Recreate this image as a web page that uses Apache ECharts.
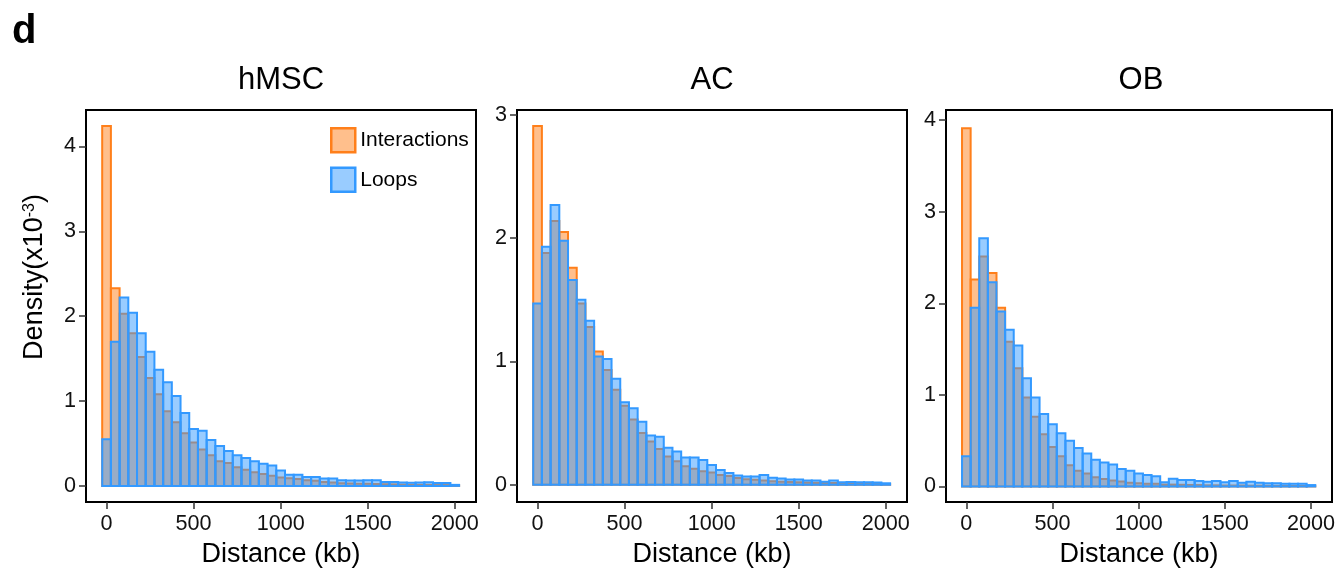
<!DOCTYPE html>
<html><head><meta charset="utf-8">
<script src="https://cdn.jsdelivr.net/npm/echarts@6/dist/echarts.min.js"></script>
<style>html,body{margin:0;padding:0;background:#fff}#c{width:1338px;height:573px}</style>
</head><body><div id="c"></div>
<script>
// ---- data (density x10^-3, bins of 50 kb, centers in kb) ----
const bins = [0,50,100,150,200,250,300,350,400,450,500,550,600,650,700,750,800,850,900,950,1000,
  1050,1100,1150,1200,1250,1300,1350,1400,1450,1500,1550,1600,1650,1700,1750,1800,1850,1900,1950,2000];
const panelNames = ['hMSC', 'AC', 'OB'];
const seriesNames = ['Interactions', 'Loops'];
const xTickValues = [0, 500, 1000, 1500, 2000];
const yTickValuesHMSC = [0, 1, 2, 3, 4];
const yTickValuesAC = [0, 1, 2, 3];
const yTickValuesOB = [0, 1, 2, 3, 4];

const hmscInteractions = [4.24,2.33,2.03,1.80,1.52,1.27,1.08,0.88,0.75,0.62,0.51,0.43,0.36,0.29,0.27,0.22,0.19,0.16,0.14,0.12,
  0.10,0.09,0.08,0.065,0.06,0.047,0.04,0.03,0.028,0.025,0.025,0.022,0.02,0.018,0.015,0.013,0.012,0.012,0.01,0.01,0.005];
const hmscLoops = [0.55,1.70,2.22,2.04,1.80,1.58,1.37,1.22,1.06,0.86,0.67,0.65,0.54,0.47,0.41,0.36,0.33,0.29,0.26,0.24,
  0.18,0.13,0.13,0.106,0.106,0.086,0.086,0.067,0.063,0.063,0.067,0.067,0.047,0.047,0.04,0.037,0.04,0.043,0.035,0.035,0.012];

const acInteractions = [2.91,1.88,2.14,2.05,1.76,1.47,1.28,1.08,0.93,0.77,0.64,0.53,0.42,0.35,0.29,0.23,0.19,0.15,0.13,0.11,
  0.10,0.08,0.07,0.055,0.045,0.04,0.035,0.028,0.025,0.022,0.02,0.018,0.016,0.014,0.014,0.012,0.01,0.01,0.009,0.008,0.005];
const acLoops = [1.47,1.93,2.27,1.98,1.66,1.50,1.33,1.04,1.02,0.86,0.67,0.62,0.51,0.40,0.39,0.30,0.27,0.22,0.22,0.20,
  0.16,0.12,0.095,0.075,0.067,0.067,0.08,0.057,0.05,0.043,0.043,0.035,0.035,0.025,0.035,0.02,0.022,0.02,0.02,0.018,0.012];

const obInteractions = [3.91,2.26,2.51,2.33,1.95,1.58,1.29,0.97,0.76,0.57,0.43,0.33,0.23,0.17,0.14,0.10,0.08,0.065,0.055,0.04,
  0.036,0.03,0.028,0.02,0.02,0.018,0.016,0.015,0.012,0.012,0.01,0.01,0.01,0.008,0.008,0.007,0.006,0.005,0.005,0.005,0.003];
const obLoops = [0.33,1.95,2.71,2.23,1.91,1.71,1.54,1.18,0.97,0.79,0.68,0.58,0.50,0.42,0.36,0.29,0.26,0.24,0.19,0.17,
  0.14,0.125,0.11,0.045,0.085,0.07,0.07,0.06,0.05,0.06,0.045,0.06,0.04,0.05,0.04,0.035,0.035,0.03,0.03,0.03,0.015];

// ---- styling ----
const FONT = "'Liberation Sans', Arial, Helvetica, sans-serif";
const ORANGE = '#FF7F1A', ORANGE_FILL = 'rgba(255,127,26,0.5)';
const BLUE = '#3399FF', BLUE_FILL = 'rgba(51,153,255,0.5)';
const BIN_HALF = 25;

const panelData = [
  {inter: hmscInteractions, loops: hmscLoops, ymin: -0.19, ymax: 4.43, yticks: yTickValuesHMSC},
  {inter: acInteractions, loops: acLoops, ymin: -0.14, ymax: 3.04, yticks: yTickValuesAC},
  {inter: obInteractions, loops: obLoops, ymin: -0.17, ymax: 4.11, yticks: yTickValuesOB}
];
const gridLefts = [86, 517, 946];
const gridWidth = 390;

function makeRender(fill, stroke) {
  return function (params, api) {
    const x = api.value(0), y = api.value(1);
    const p0 = api.coord([x - BIN_HALF, y]);
    const p1 = api.coord([x + BIN_HALF, 0]);
    return {
      type: 'rect',
      shape: {x: p0[0], y: p0[1], width: p1[0] - p0[0], height: p1[1] - p0[1]},
      style: {fill: fill, stroke: stroke, lineWidth: 2}
    };
  };
}

const grids = [], xAxes = [], yAxes = [], series = [], titles = [];
panelData.forEach((p, i) => {
  grids.push({left: gridLefts[i], top: 110, width: gridWidth, height: 393,
    show: true, borderColor: '#000', borderWidth: 2, backgroundColor: 'transparent'});
  xAxes.push({
    type: 'value', gridIndex: i, min: -118, max: 2122, position: 'bottom',
    axisLine: {show: false, onZero: false}, splitLine: {show: false},
    axisTick: {show: true, inside: false, length: 7, lineStyle: {color: '#333', width: 1.5}, customValues: xTickValues},
    axisLabel: {show: true, margin: 11, fontSize: 21.6, color: '#111', fontFamily: FONT,
      customValues: xTickValues, formatter: v => String(v)},
    name: 'Distance (kb)', nameLocation: 'middle', nameGap: 39,
    nameTextStyle: {fontSize: 27, color: '#000', fontFamily: FONT}
  });
  yAxes.push({
    type: 'value', gridIndex: i, min: p.ymin, max: p.ymax, position: 'left',
    axisLine: {show: false, onZero: false}, splitLine: {show: false},
    axisTick: {show: true, inside: false, length: 7, lineStyle: {color: '#333', width: 1.5}, customValues: p.yticks},
    axisLabel: {show: true, margin: 10, fontSize: 21.6, color: '#111', fontFamily: FONT,
      customValues: p.yticks, formatter: v => String(v)}
  });
  titles.push({text: panelNames[i], left: gridLefts[i] + gridWidth / 2, top: 65, textAlign: 'center', padding: 0,
    textStyle: {fontSize: 31, fontWeight: 'normal', color: '#000', fontFamily: FONT, lineHeight: 31}});
  series.push({
    type: 'custom', name: seriesNames[0], xAxisIndex: i, yAxisIndex: i,
    renderItem: makeRender(ORANGE_FILL, ORANGE), encode: {x: 0, y: 1},
    itemStyle: {color: ORANGE_FILL, borderColor: ORANGE},
    data: bins.map((b, k) => [b, p.inter[k]]), z: 2, silent: true
  });
  series.push({
    type: 'custom', name: seriesNames[1], xAxisIndex: i, yAxisIndex: i,
    renderItem: makeRender(BLUE_FILL, BLUE), encode: {x: 0, y: 1},
    itemStyle: {color: BLUE_FILL, borderColor: BLUE},
    data: bins.map((b, k) => [b, p.loops[k]]), z: 3, silent: true
  });
});

titles.push({text: 'd', left: 12, top: 12, padding: 0,
  textStyle: {fontSize: 40, fontWeight: 'bold', color: '#000', fontFamily: FONT, lineHeight: 40}});

const chart = echarts.init(document.getElementById('c'), null, {renderer: 'canvas'});
chart.setOption({
  animation: false,
  backgroundColor: '#fff',
  title: titles,
  grid: grids,
  xAxis: xAxes,
  yAxis: yAxes,
  legend: {
    orient: 'vertical', left: 330, top: 127, itemWidth: 24, itemHeight: 24, itemGap: 13,
    padding: 0, selectedMode: false,
    textStyle: {fontSize: 21, color: '#000', fontFamily: FONT},
    data: [
      {name: seriesNames[0], icon: 'rect', itemStyle: {color: ORANGE_FILL, borderColor: ORANGE, borderWidth: 2.5}},
      {name: seriesNames[1], icon: 'rect', itemStyle: {color: BLUE_FILL, borderColor: BLUE, borderWidth: 2.5}}
    ]
  },
  graphic: [{
    type: 'text', x: 35, y: 277, rotation: Math.PI / 2,
    style: {
      text: '{a|Density(x10}{s|-3}{a|)}',
      align: 'center', verticalAlign: 'middle', fill: '#000',
      rich: {
        a: {fontSize: 27, fontFamily: FONT, lineHeight: 27, fill: '#000'},
        s: {fontSize: 16, fontFamily: FONT, lineHeight: 16, verticalAlign: 'top', fill: '#000'}
      }
    }
  }],
  series: series
});
</script>
</body></html>
